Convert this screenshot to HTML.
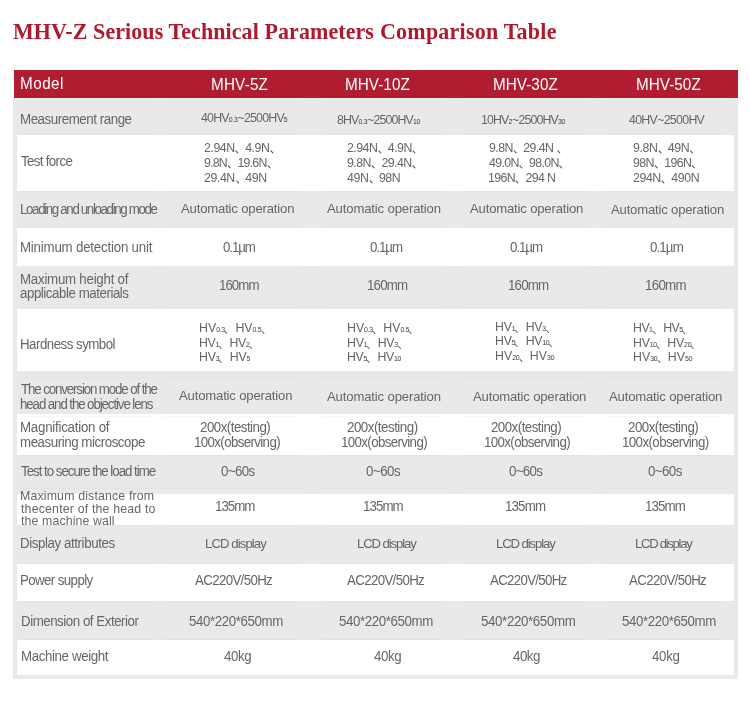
<!DOCTYPE html>
<html><head><meta charset="utf-8"><title>MHV-Z Serious Technical Parameters Comparison Table</title>
<style>
html,body{margin:0;padding:0;background:#fff}
body{width:750px;height:704px;position:relative;overflow:hidden;font-family:"Liberation Sans",sans-serif}
.g{position:absolute;left:13px;top:98px;width:725px;height:581px;background:#e9e9e9}
.r{position:absolute;left:14px;top:70px;width:724px;height:28px;background:#b11d30}
.wr{position:absolute;left:17px;width:717px;background:#fff}
.ln{position:absolute;left:0;width:750px;height:1px;background:linear-gradient(90deg,transparent 21px,#000 21px,#000 157px,transparent 157px,transparent 162px,#000 162px,#000 300px,transparent 300px,transparent 321px,#000 321px,#000 445px,transparent 445px,transparent 464px,#000 464px,#000 588px,transparent 588px,transparent 605px,#000 605px,#000 724px,transparent 724px);opacity:.028}
.i{position:absolute;white-space:nowrap;line-height:20px}
.x{position:absolute;left:0;top:0;width:750px;height:704px;will-change:transform}
sub{vertical-align:baseline;font-size:7.3px;line-height:0;letter-spacing:-0.3px;color:#3c3c3c}
.c{display:inline-block;vertical-align:baseline;margin-bottom:-2.6px;overflow:visible}
.t{font-size:23px;color:#b0182c;font-family:"Liberation Serif",serif;font-weight:bold;transform:scaleX(0.955);transform-origin:0 0;}
.w{font-size:15.9px;color:#ffffff;transform:scaleX(0.96);transform-origin:0 0;}
.l{font-size:14px;color:#666666;transform:scaleX(0.95);transform-origin:0 0;}
.v{font-size:13.4px;color:#666666;transform:scaleX(0.98);transform-origin:0 0;}
.m{font-size:13px;color:#666666;transform:scaleX(0.95);transform-origin:0 0;}
.d{font-size:14px;color:#666666;transform:scaleX(0.95);transform-origin:0 0;}
.n{font-size:13px;color:#666666;transform:scaleX(0.95);transform-origin:0 0;}
</style></head>
<body>
<div class="g"></div>
<div class="r"></div>
<div class="wr" style="top:135px;height:56px"></div>
<div class="wr" style="top:228px;height:38px"></div>
<div class="wr" style="top:309px;height:62px"></div>
<div class="wr" style="top:414px;height:41px"></div>
<div class="wr" style="top:494px;height:31px"></div>
<div class="wr" style="top:564px;height:37px"></div>
<div class="wr" style="top:640px;height:35px"></div>
<div class="ln" style="top:102px"></div>
<div class="ln" style="top:134px"></div>
<div class="ln" style="top:191px"></div>
<div class="ln" style="top:226px"></div>
<div class="ln" style="top:265px"></div>
<div class="ln" style="top:307px"></div>
<div class="ln" style="top:377px"></div>
<div class="ln" style="top:416px"></div>
<div class="ln" style="top:455px"></div>
<div class="ln" style="top:488px"></div>
<div class="ln" style="top:525px"></div>
<div class="ln" style="top:563px"></div>
<div class="ln" style="top:601px"></div>
<div class="ln" style="top:639px"></div>
<div class="x">
<div class="i t" style="left:13.00px;top:22.00px;letter-spacing:0.101px">MHV-Z Serious Technical Parameters</div>
<div class="i t" style="left:380.00px;top:22.00px;letter-spacing:0.256px">Comparison Table</div>
<div class="i w" style="left:20.00px;top:74.00px;letter-spacing:0.501px">Model</div>
<div class="i w" style="left:211.00px;top:75.00px;letter-spacing:0.201px">MHV-5Z</div>
<div class="i w" style="left:345.00px;top:75.00px;letter-spacing:0.058px">MHV-10Z</div>
<div class="i w" style="left:493.00px;top:75.00px;letter-spacing:0.058px">MHV-30Z</div>
<div class="i w" style="left:636.00px;top:75.00px;letter-spacing:0.049px">MHV-50Z</div>
<div class="i l" style="left:20.00px;top:109.01px;letter-spacing:-0.461px">Measurement range</div>
<div class="i n" style="left:201.00px;top:108.01px;letter-spacing:-0.830px">40HV<sub>0.3</sub>~2500HV<sub>5</sub></div>
<div class="i n" style="left:337.00px;top:110.01px;letter-spacing:-0.913px">8HV<sub>0.3</sub>~2500HV<sub>10</sub></div>
<div class="i n" style="left:481.00px;top:110.01px;letter-spacing:-0.904px">10HV<sub>2</sub>~2500HV<sub>30</sub></div>
<div class="i n" style="left:629.00px;top:110.01px;letter-spacing:-0.725px">40HV~2500HV</div>
<div class="i l" style="left:21.00px;top:151.01px;letter-spacing:-0.687px">Test force</div>
<div class="i n" style="left:204.00px;top:138.01px;letter-spacing:-0.467px">2.94N<svg class="c" width="11" height="6" viewBox="0 0 11 6"><path d="M1.5 1.9L3.5 3.9" stroke="#505050" stroke-width="1.05" stroke-linecap="round" fill="none"/></svg>4.9N<svg class="c" width="11" height="6" viewBox="0 0 11 6"><path d="M1.5 1.9L3.5 3.9" stroke="#505050" stroke-width="1.05" stroke-linecap="round" fill="none"/></svg></div>
<div class="i n" style="left:204.00px;top:153.01px;letter-spacing:-0.807px">9.8N<svg class="c" width="11" height="6" viewBox="0 0 11 6"><path d="M1.5 1.9L3.5 3.9" stroke="#505050" stroke-width="1.05" stroke-linecap="round" fill="none"/></svg>19.6N<svg class="c" width="11" height="6" viewBox="0 0 11 6"><path d="M1.5 1.9L3.5 3.9" stroke="#505050" stroke-width="1.05" stroke-linecap="round" fill="none"/></svg></div>
<div class="i n" style="left:204.00px;top:168.01px;letter-spacing:-0.441px">29.4N<svg class="c" width="11" height="6" viewBox="0 0 11 6"><path d="M1.5 1.9L3.5 3.9" stroke="#505050" stroke-width="1.05" stroke-linecap="round" fill="none"/></svg>49N</div>
<div class="i n" style="left:347.00px;top:138.01px;letter-spacing:-0.542px">2.94N<svg class="c" width="11" height="6" viewBox="0 0 11 6"><path d="M1.5 1.9L3.5 3.9" stroke="#505050" stroke-width="1.05" stroke-linecap="round" fill="none"/></svg>4.9N<svg class="c" width="11" height="6" viewBox="0 0 11 6"><path d="M1.5 1.9L3.5 3.9" stroke="#505050" stroke-width="1.05" stroke-linecap="round" fill="none"/></svg></div>
<div class="i n" style="left:347.00px;top:153.01px;letter-spacing:-0.572px">9.8N<svg class="c" width="11" height="6" viewBox="0 0 11 6"><path d="M1.5 1.9L3.5 3.9" stroke="#505050" stroke-width="1.05" stroke-linecap="round" fill="none"/></svg>29.4N<svg class="c" width="11" height="6" viewBox="0 0 11 6"><path d="M1.5 1.9L3.5 3.9" stroke="#505050" stroke-width="1.05" stroke-linecap="round" fill="none"/></svg></div>
<div class="i n" style="left:347.00px;top:168.01px;letter-spacing:-0.426px">49N<svg class="c" width="11" height="6" viewBox="0 0 11 6"><path d="M1.5 1.9L3.5 3.9" stroke="#505050" stroke-width="1.05" stroke-linecap="round" fill="none"/></svg>98N</div>
<div class="i n" style="left:489.00px;top:138.01px;letter-spacing:-0.601px">9.8N<svg class="c" width="11" height="6" viewBox="0 0 11 6"><path d="M1.5 1.9L3.5 3.9" stroke="#505050" stroke-width="1.05" stroke-linecap="round" fill="none"/></svg>29.4N <svg class="c" width="11" height="6" viewBox="0 0 11 6"><path d="M1.5 1.9L3.5 3.9" stroke="#505050" stroke-width="1.05" stroke-linecap="round" fill="none"/></svg></div>
<div class="i n" style="left:489.00px;top:153.01px;letter-spacing:-0.695px">49.0N<svg class="c" width="11" height="6" viewBox="0 0 11 6"><path d="M1.5 1.9L3.5 3.9" stroke="#505050" stroke-width="1.05" stroke-linecap="round" fill="none"/></svg>98.0N<svg class="c" width="11" height="6" viewBox="0 0 11 6"><path d="M1.5 1.9L3.5 3.9" stroke="#505050" stroke-width="1.05" stroke-linecap="round" fill="none"/></svg></div>
<div class="i n" style="left:488.00px;top:168.01px;letter-spacing:-0.656px">196N<svg class="c" width="11" height="6" viewBox="0 0 11 6"><path d="M1.5 1.9L3.5 3.9" stroke="#505050" stroke-width="1.05" stroke-linecap="round" fill="none"/></svg>294 N</div>
<div class="i n" style="left:633.00px;top:138.01px;letter-spacing:-0.441px">9.8N<svg class="c" width="11" height="6" viewBox="0 0 11 6"><path d="M1.5 1.9L3.5 3.9" stroke="#505050" stroke-width="1.05" stroke-linecap="round" fill="none"/></svg>49N<svg class="c" width="11" height="6" viewBox="0 0 11 6"><path d="M1.5 1.9L3.5 3.9" stroke="#505050" stroke-width="1.05" stroke-linecap="round" fill="none"/></svg></div>
<div class="i n" style="left:633.00px;top:153.01px;letter-spacing:-0.640px">98N<svg class="c" width="11" height="6" viewBox="0 0 11 6"><path d="M1.5 1.9L3.5 3.9" stroke="#505050" stroke-width="1.05" stroke-linecap="round" fill="none"/></svg>196N<svg class="c" width="11" height="6" viewBox="0 0 11 6"><path d="M1.5 1.9L3.5 3.9" stroke="#505050" stroke-width="1.05" stroke-linecap="round" fill="none"/></svg></div>
<div class="i n" style="left:633.00px;top:168.01px;letter-spacing:-0.436px">294N<svg class="c" width="11" height="6" viewBox="0 0 11 6"><path d="M1.5 1.9L3.5 3.9" stroke="#505050" stroke-width="1.05" stroke-linecap="round" fill="none"/></svg>490N</div>
<div class="i l" style="left:20.00px;top:199.01px;letter-spacing:-1.415px">Loading and unloading mode</div>
<div class="i v" style="left:181.00px;top:199.01px;letter-spacing:-0.184px">Automatic operation</div>
<div class="i v" style="left:327.00px;top:199.01px;letter-spacing:-0.152px">Automatic operation</div>
<div class="i v" style="left:470.00px;top:199.01px;letter-spacing:-0.190px">Automatic operation</div>
<div class="i v" style="left:611.00px;top:200.01px;letter-spacing:-0.199px">Automatic operation</div>
<div class="i l" style="left:20.00px;top:237.01px;letter-spacing:-0.219px">Minimum detection unit</div>
<div class="i d" style="left:223.00px;top:237.01px;letter-spacing:-1.135px">0.1µm</div>
<div class="i d" style="left:370.00px;top:237.01px;letter-spacing:-1.106px">0.1µm</div>
<div class="i d" style="left:510.00px;top:237.01px;letter-spacing:-1.106px">0.1µm</div>
<div class="i d" style="left:650.00px;top:237.01px;letter-spacing:-0.928px">0.1µm</div>
<div class="i l" style="left:20.00px;top:269.01px;letter-spacing:-0.261px">Maximum height of</div>
<div class="i l" style="left:20.00px;top:283.01px;letter-spacing:-0.473px">applicable materials</div>
<div class="i d" style="left:219.00px;top:275.01px;letter-spacing:-1.019px">160mm</div>
<div class="i d" style="left:367.00px;top:275.01px;letter-spacing:-0.830px">160mm</div>
<div class="i d" style="left:508.00px;top:275.01px;letter-spacing:-0.865px">160mm</div>
<div class="i d" style="left:645.00px;top:275.01px;letter-spacing:-0.732px">160mm</div>
<div class="i l" style="left:20.00px;top:334.01px;letter-spacing:-0.539px">Hardness symbol</div>
<div class="i n" style="left:199.00px;top:318.01px;letter-spacing:-0.007px">HV<sub>0.3</sub><svg class="c" width="11" height="6" viewBox="0 0 11 6"><path d="M0.4 2.5L2.4 4.5" stroke="#505050" stroke-width="1.05" stroke-linecap="round" fill="none"/></svg>HV<sub>0.5</sub><svg class="c" width="11" height="6" viewBox="0 0 11 6"><path d="M0.4 2.5L2.4 4.5" stroke="#505050" stroke-width="1.05" stroke-linecap="round" fill="none"/></svg></div>
<div class="i n" style="left:199.00px;top:333.01px;letter-spacing:-0.345px">HV<sub>1</sub><svg class="c" width="11" height="6" viewBox="0 0 11 6"><path d="M0.4 2.5L2.4 4.5" stroke="#505050" stroke-width="1.05" stroke-linecap="round" fill="none"/></svg>HV<sub>2</sub><svg class="c" width="11" height="6" viewBox="0 0 11 6"><path d="M0.4 2.5L2.4 4.5" stroke="#505050" stroke-width="1.05" stroke-linecap="round" fill="none"/></svg></div>
<div class="i n" style="left:199.00px;top:347.01px;letter-spacing:-0.208px">HV<sub>3</sub><svg class="c" width="11" height="6" viewBox="0 0 11 6"><path d="M0.4 2.5L2.4 4.5" stroke="#505050" stroke-width="1.05" stroke-linecap="round" fill="none"/></svg>HV<sub>5</sub></div>
<div class="i n" style="left:347.00px;top:318.01px;letter-spacing:-0.043px">HV<sub>0.3</sub><svg class="c" width="11" height="6" viewBox="0 0 11 6"><path d="M0.4 2.5L2.4 4.5" stroke="#505050" stroke-width="1.05" stroke-linecap="round" fill="none"/></svg>HV<sub>0.5</sub><svg class="c" width="11" height="6" viewBox="0 0 11 6"><path d="M0.4 2.5L2.4 4.5" stroke="#505050" stroke-width="1.05" stroke-linecap="round" fill="none"/></svg></div>
<div class="i n" style="left:347.00px;top:333.01px;letter-spacing:-0.283px">HV<sub>1</sub><svg class="c" width="11" height="6" viewBox="0 0 11 6"><path d="M0.4 2.5L2.4 4.5" stroke="#505050" stroke-width="1.05" stroke-linecap="round" fill="none"/></svg>HV<sub>3</sub><svg class="c" width="11" height="6" viewBox="0 0 11 6"><path d="M0.4 2.5L2.4 4.5" stroke="#505050" stroke-width="1.05" stroke-linecap="round" fill="none"/></svg></div>
<div class="i n" style="left:347.00px;top:347.01px;letter-spacing:-0.371px">HV<sub>5</sub><svg class="c" width="11" height="6" viewBox="0 0 11 6"><path d="M0.4 2.5L2.4 4.5" stroke="#505050" stroke-width="1.05" stroke-linecap="round" fill="none"/></svg>HV<sub>10</sub></div>
<div class="i n" style="left:495.00px;top:317.01px;letter-spacing:-0.283px">HV<sub>1</sub><svg class="c" width="11" height="6" viewBox="0 0 11 6"><path d="M0.4 2.5L2.4 4.5" stroke="#505050" stroke-width="1.05" stroke-linecap="round" fill="none"/></svg>HV<sub>3</sub><svg class="c" width="11" height="6" viewBox="0 0 11 6"><path d="M0.4 2.5L2.4 4.5" stroke="#505050" stroke-width="1.05" stroke-linecap="round" fill="none"/></svg></div>
<div class="i n" style="left:495.00px;top:331.01px;letter-spacing:-0.286px">HV<sub>5</sub><svg class="c" width="11" height="6" viewBox="0 0 11 6"><path d="M0.4 2.5L2.4 4.5" stroke="#505050" stroke-width="1.05" stroke-linecap="round" fill="none"/></svg>HV<sub>10</sub><svg class="c" width="11" height="6" viewBox="0 0 11 6"><path d="M0.4 2.5L2.4 4.5" stroke="#505050" stroke-width="1.05" stroke-linecap="round" fill="none"/></svg></div>
<div class="i n" style="left:495.00px;top:346.01px;letter-spacing:0.040px">HV<sub>20</sub><svg class="c" width="11" height="6" viewBox="0 0 11 6"><path d="M0.4 2.5L2.4 4.5" stroke="#505050" stroke-width="1.05" stroke-linecap="round" fill="none"/></svg>HV<sub>30</sub></div>
<div class="i n" style="left:633.00px;top:318.01px;letter-spacing:-0.560px">HV<sub>1</sub><svg class="c" width="11" height="6" viewBox="0 0 11 6"><path d="M0.4 2.5L2.4 4.5" stroke="#505050" stroke-width="1.05" stroke-linecap="round" fill="none"/></svg>HV<sub>5</sub><svg class="c" width="11" height="6" viewBox="0 0 11 6"><path d="M0.4 2.5L2.4 4.5" stroke="#505050" stroke-width="1.05" stroke-linecap="round" fill="none"/></svg></div>
<div class="i n" style="left:633.00px;top:333.01px;letter-spacing:-0.212px">HV<sub>10</sub><svg class="c" width="11" height="6" viewBox="0 0 11 6"><path d="M0.4 2.5L2.4 4.5" stroke="#505050" stroke-width="1.05" stroke-linecap="round" fill="none"/></svg>HV<sub>20</sub><svg class="c" width="11" height="6" viewBox="0 0 11 6"><path d="M0.4 2.5L2.4 4.5" stroke="#505050" stroke-width="1.05" stroke-linecap="round" fill="none"/></svg></div>
<div class="i n" style="left:633.00px;top:347.01px;letter-spacing:0.040px">HV<sub>30</sub><svg class="c" width="11" height="6" viewBox="0 0 11 6"><path d="M0.4 2.5L2.4 4.5" stroke="#505050" stroke-width="1.05" stroke-linecap="round" fill="none"/></svg>HV<sub>50</sub></div>
<div class="i l" style="left:21.00px;top:379.01px;letter-spacing:-1.177px">The conversion mode of the</div>
<div class="i l" style="left:20.00px;top:394.01px;letter-spacing:-1.155px">head and the objective lens</div>
<div class="i v" style="left:179.00px;top:386.01px;letter-spacing:-0.184px">Automatic operation</div>
<div class="i v" style="left:327.00px;top:387.01px;letter-spacing:-0.152px">Automatic operation</div>
<div class="i v" style="left:473.00px;top:387.01px;letter-spacing:-0.190px">Automatic operation</div>
<div class="i v" style="left:609.00px;top:387.01px;letter-spacing:-0.188px">Automatic operation</div>
<div class="i l" style="left:20.00px;top:417.01px;letter-spacing:-0.254px">Magnification of</div>
<div class="i l" style="left:20.00px;top:432.01px;letter-spacing:-0.468px">measuring microscope</div>
<div class="i d" style="left:200.00px;top:417.01px;letter-spacing:-0.536px">200x(testing)</div>
<div class="i d" style="left:347.00px;top:417.01px;letter-spacing:-0.511px">200x(testing)</div>
<div class="i d" style="left:491.00px;top:417.01px;letter-spacing:-0.552px">200x(testing)</div>
<div class="i d" style="left:628.00px;top:417.01px;letter-spacing:-0.536px">200x(testing)</div>
<div class="i d" style="left:194.00px;top:432.01px;letter-spacing:-0.660px">100x(observing)</div>
<div class="i d" style="left:341.00px;top:432.01px;letter-spacing:-0.660px">100x(observing)</div>
<div class="i d" style="left:484.00px;top:432.01px;letter-spacing:-0.660px">100x(observing)</div>
<div class="i d" style="left:622.00px;top:432.01px;letter-spacing:-0.620px">100x(observing)</div>
<div class="i l" style="left:21.00px;top:461.01px;letter-spacing:-1.070px">Test to secure the load time</div>
<div class="i d" style="left:221.00px;top:461.01px;letter-spacing:-0.639px">0~60s</div>
<div class="i d" style="left:366.00px;top:461.01px;letter-spacing:-0.541px">0~60s</div>
<div class="i d" style="left:509.00px;top:461.01px;letter-spacing:-0.680px">0~60s</div>
<div class="i d" style="left:648.00px;top:461.01px;letter-spacing:-0.592px">0~60s</div>
<div class="i m" style="left:20.00px;top:486.01px;letter-spacing:0.160px">Maximum distance from</div>
<div class="i m" style="left:21.00px;top:499.01px;letter-spacing:0.184px">thecenter of the head to</div>
<div class="i m" style="left:21.00px;top:511.01px;letter-spacing:0.113px">the machine wall</div>
<div class="i d" style="left:215.00px;top:496.01px;letter-spacing:-1.063px">135mm</div>
<div class="i d" style="left:363.00px;top:496.01px;letter-spacing:-0.979px">135mm</div>
<div class="i d" style="left:505.00px;top:496.01px;letter-spacing:-0.887px">135mm</div>
<div class="i d" style="left:645.00px;top:496.01px;letter-spacing:-0.935px">135mm</div>
<div class="i l" style="left:20.00px;top:533.01px;letter-spacing:-0.431px">Display attributes</div>
<div class="i v" style="left:205.00px;top:534.01px;letter-spacing:-0.914px">LCD display</div>
<div class="i v" style="left:357.00px;top:534.01px;letter-spacing:-1.121px">LCD display</div>
<div class="i v" style="left:496.00px;top:534.01px;letter-spacing:-1.121px">LCD display</div>
<div class="i v" style="left:635.00px;top:534.01px;letter-spacing:-1.327px">LCD display</div>
<div class="i l" style="left:20.00px;top:570.01px;letter-spacing:-0.637px">Power supply</div>
<div class="i d" style="left:195.00px;top:570.01px;letter-spacing:-0.688px">AC220V/50Hz</div>
<div class="i d" style="left:347.00px;top:570.01px;letter-spacing:-0.688px">AC220V/50Hz</div>
<div class="i d" style="left:490.00px;top:570.01px;letter-spacing:-0.740px">AC220V/50Hz</div>
<div class="i d" style="left:629.00px;top:570.01px;letter-spacing:-0.688px">AC220V/50Hz</div>
<div class="i l" style="left:21.00px;top:611.01px;letter-spacing:-0.486px">Dimension of Exterior</div>
<div class="i d" style="left:189.00px;top:611.01px;letter-spacing:-0.413px">540*220*650mm</div>
<div class="i d" style="left:339.00px;top:611.01px;letter-spacing:-0.413px">540*220*650mm</div>
<div class="i d" style="left:481.00px;top:611.01px;letter-spacing:-0.381px">540*220*650mm</div>
<div class="i d" style="left:622.00px;top:611.01px;letter-spacing:-0.413px">540*220*650mm</div>
<div class="i l" style="left:21.00px;top:646.01px;letter-spacing:-0.402px">Machine weight</div>
<div class="i d" style="left:224.00px;top:646.01px;letter-spacing:-0.434px">40kg</div>
<div class="i d" style="left:374.00px;top:646.01px;letter-spacing:-0.434px">40kg</div>
<div class="i d" style="left:513.00px;top:646.01px;letter-spacing:-0.536px">40kg</div>
<div class="i d" style="left:652.00px;top:646.01px;letter-spacing:-0.343px">40kg</div>
</div>
</body></html>
